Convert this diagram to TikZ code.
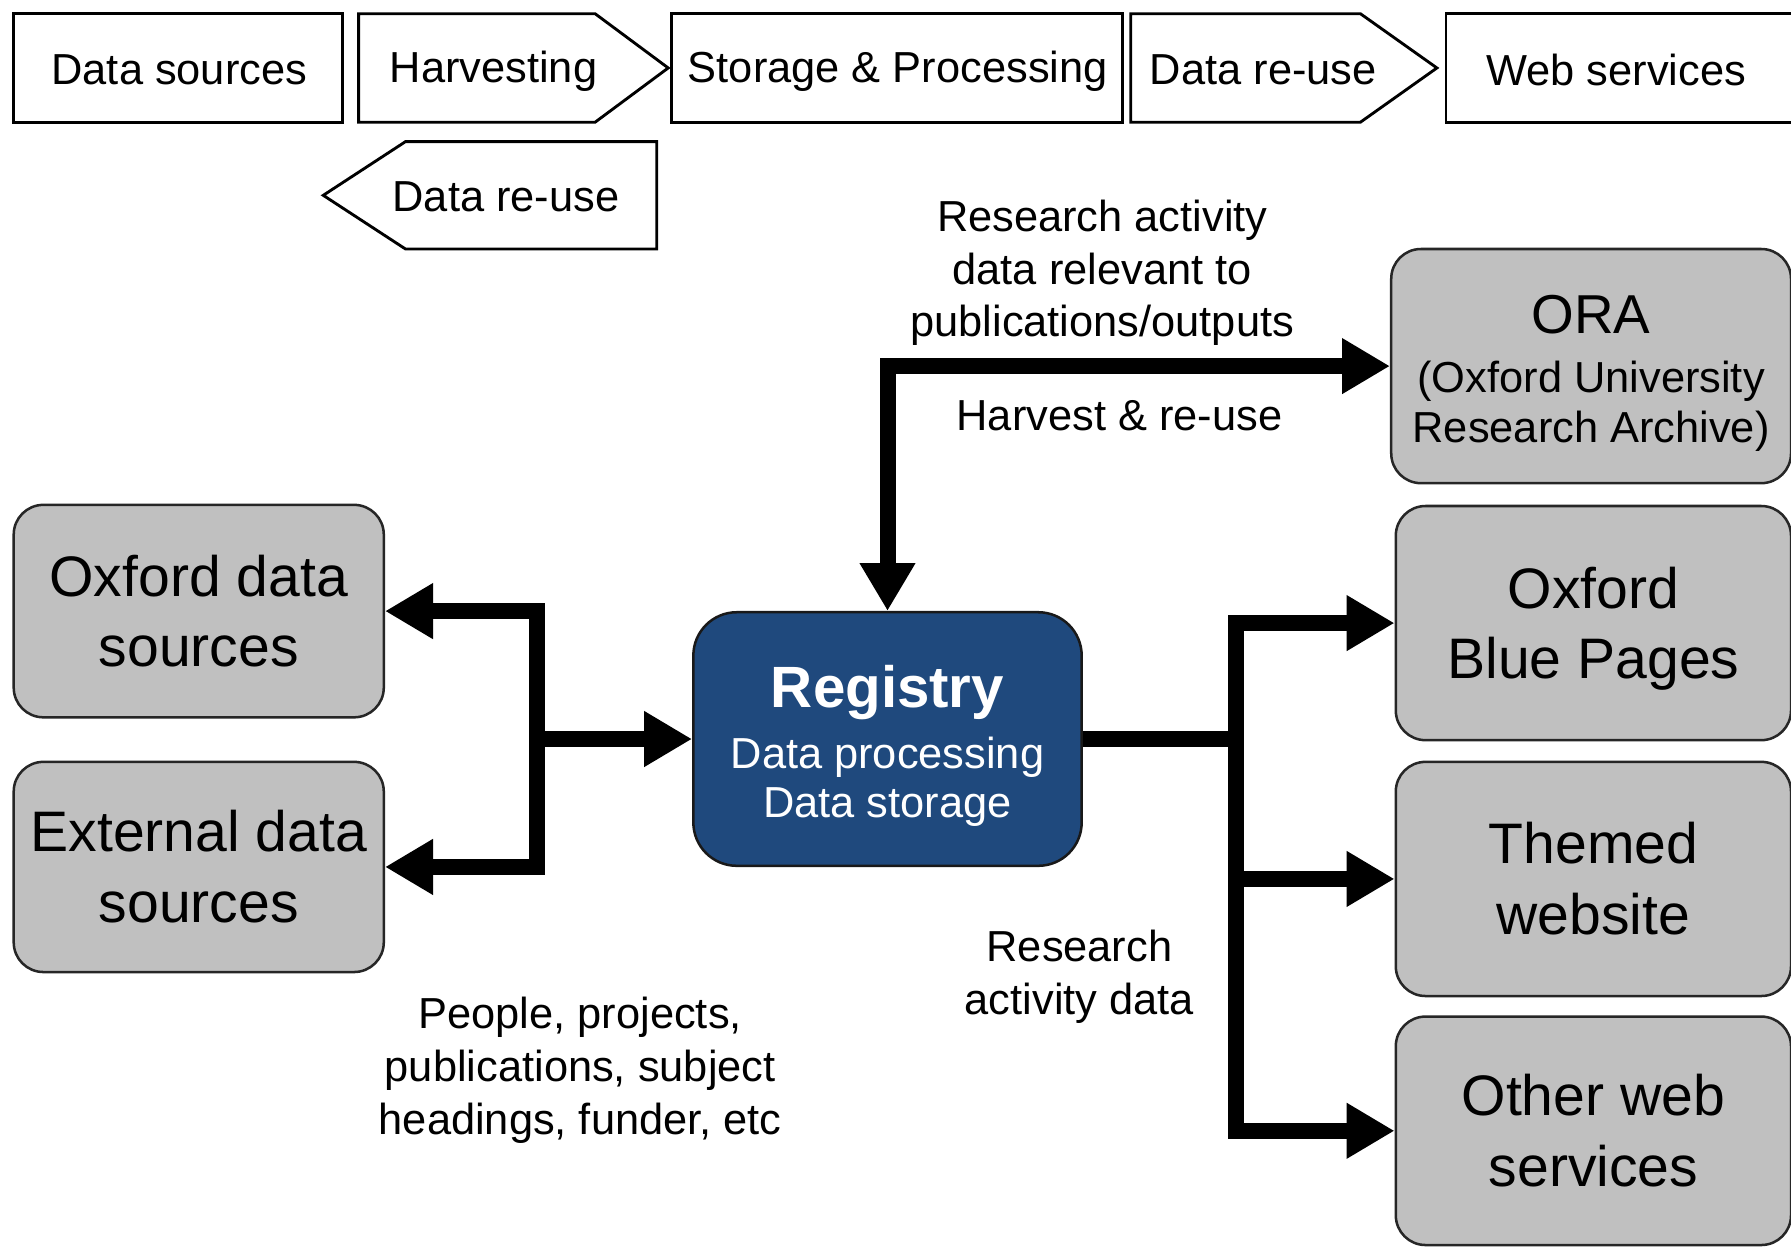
\documentclass[tikz,border=0pt]{standalone}
\usepackage{fontspec}
\setmainfont{Liberation Sans}
\usetikzlibrary{arrows.meta}
\definecolor{boxgray}{RGB}{192,192,192}
\definecolor{regblue}{RGB}{31,73,125}
\tikzset{
  topbox/.style={draw=black, line width=2.5pt, fill=white, inner sep=0pt},
  toptext/.style={inner sep=0pt, font=\fontsize{38}{46}\selectfont},
  graybox/.style={draw=black!85, line width=2.2pt, fill=boxgray, rounded corners=26pt,
    inner sep=0pt, align=center, font=\fontsize{50}{62}\selectfont},
  regbox/.style={draw=black!90, line width=2.2pt, fill=regblue, rounded corners=38pt,
    inner sep=0pt, align=center, text=white, font=\fontsize{38}{43}\selectfont},
  lbl/.style={inner sep=0pt, align=center, font=\fontsize{38}{46}\selectfont},
  fat/.style={line width=14pt, line join=miter},
  tipA/.tip={Triangle[length=42pt,width=46pt]}
}
\begin{document}
\begin{tikzpicture}[x=1pt,y=-1pt]
\useasboundingbox (0,0) rectangle (1568,1091);
\clip (0,0) rectangle (1568,1091);
\fill[white] (0,0) rectangle (1568,1091);

% top process row
\draw[topbox] (12,12) rectangle (300,107);
\node[toptext] (tds) at (157,61) {Data sources};
\draw[topbox] (314,12) -- (521,12) -- (585,59.5) -- (521,107) -- (314,107) -- cycle;
\node[toptext] (thv) at (432,62) {Harvesting};
\draw[topbox] (588,12) rectangle (983,107);
\node[toptext] (tsp) at (786,62) {Storage \& Processing};
\draw[topbox] (990,12) -- (1191,12) -- (1258,59.5) -- (1191,107) -- (990,107) -- cycle;
\node[toptext] (tdr) at (1106,61) {Data re-use};
\draw[topbox] (1266,12) rectangle (1580,107);
\node[toptext] (tws) at (1415,61) {Web services};
\draw[topbox] (575,124) -- (355,124) -- (283,171) -- (355,218) -- (575,218) -- cycle;
\node[toptext] (tdr2) at (443,172) {Data re-use};

% boxes
\node[graybox, minimum width=324pt, minimum height=186pt] (oxf) at (174,535) {Oxford data\\sources};
\node[graybox, minimum width=324pt, minimum height=184pt] (ext) at (174,759) {External data\\sources};
\node[regbox, minimum width=340pt, minimum height=222pt] (reg) at (777,647)
  {{\fontsize{51}{56}\selectfont\bfseries\rule{0pt}{49pt}Registry}\\[11pt]
   Data processing\\
   Data storage};
\node[graybox, minimum width=350pt, minimum height=205pt, font=\fontsize{38}{44}\selectfont] (ora) at (1393,320.5)
  {{\fontsize{48}{54}\selectfont\rule{0pt}{46pt}ORA}\\[8pt](Oxford University\\Research Archive)};
\node[graybox, minimum width=346pt, minimum height=205pt] (obp) at (1395,545.5) {\rule{0pt}{46pt}Oxford\\Blue Pages};
\node[graybox, minimum width=346pt, minimum height=205pt] (thw) at (1395,769.5) {Themed\\website};
\node[graybox, minimum width=346pt, minimum height=200pt] (ows) at (1395,990) {Other web\\services};

% connectors
\coordinate (lt) at (470,535);
\coordinate (lb) at (470,759);
\coordinate (lm) at (470,647);
\draw[fat, tipA-tipA] (oxf.east) -- (lt) -- (lb) -- (ext.east);
\draw[fat, -tipA] (lm) -- (reg.west);

\coordinate (tc) at (777,320.5);
\draw[fat, tipA-tipA] (reg.north) -- (tc) -- (ora.west);

\coordinate (rt) at (1082,545.5);
\coordinate (rm) at (1082,769.5);
\coordinate (rb) at (1082,990);
\coordinate (rr) at (1082,647);
\draw[fat] (reg.east) -- (rr);
\draw[fat, tipA-tipA] (obp.west) -- (rt) -- (rb) -- (ows.west);
\draw[fat, -tipA] (rm) -- (thw.west);

% labels
\node[lbl] (l1) at (965,239) {Research activity\\data relevant to\\publications/outputs};
\node[lbl] (l2) at (980,364) {Harvest \& re-use};
\node[lbl] (l3) at (508,937) {People, projects,\\publications, subject\\headings, funder, etc};
\node[lbl] (l4) at (945,855) {Research\\activity data};
\end{tikzpicture}
\end{document}
